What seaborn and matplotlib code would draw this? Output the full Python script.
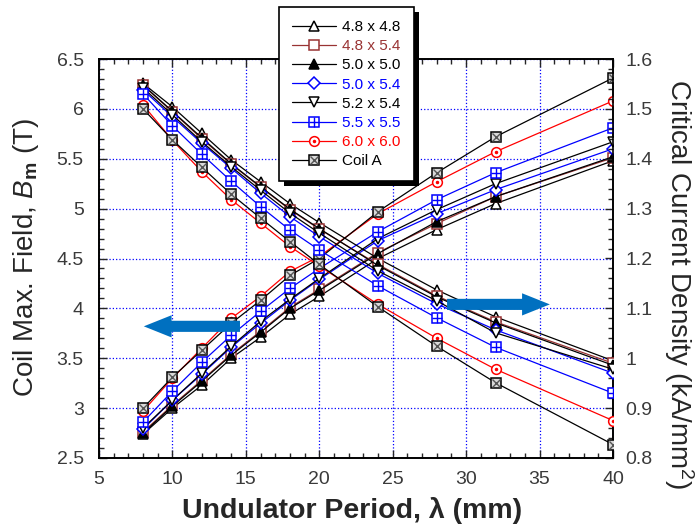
import matplotlib
matplotlib.use("Agg")
import matplotlib.pyplot as plt
from matplotlib.lines import Line2D
from matplotlib.patches import Rectangle
from matplotlib.ticker import MultipleLocator, FuncFormatter
import seaborn as sns

# undulator period (mm)
period = [8, 10, 12, 14, 16, 18, 20, 24, 28, 32, 40]

coil_names = ["4.8 x 4.8", "4.8 x 5.4", "5.0 x 5.0", "5.0 x 5.4",
              "5.2 x 5.4", "5.5 x 5.5", "6.0 x 6.0", "Coil A"]

# coil max. field Bm (T), left axis
bm_48x48 = [2.74, 3.00, 3.23, 3.50, 3.71, 3.94, 4.12, 4.50, 4.79, 5.05, 5.48]
bm_48x54 = [2.76, 3.03, 3.28, 3.54, 3.77, 4.01, 4.19, 4.56, 4.85, 5.12, 5.51]
bm_50x50 = [2.75, 3.02, 3.27, 3.53, 3.76, 4.00, 4.18, 4.55, 4.87, 5.12, 5.52]
bm_50x54 = [2.79, 3.08, 3.34, 3.61, 3.85, 4.08, 4.29, 4.68, 4.95, 5.19, 5.60]
bm_52x54 = [2.80, 3.08, 3.35, 3.62, 3.87, 4.09, 4.30, 4.70, 4.99, 5.25, 5.67]
bm_55x55 = [2.86, 3.17, 3.46, 3.73, 3.97, 4.20, 4.40, 4.77, 5.09, 5.36, 5.81]
bm_60x60 = [2.97, 3.30, 3.60, 3.90, 4.12, 4.37, 4.52, 4.95, 5.27, 5.57, 6.08]
bm_coila = [3.00, 3.31, 3.58, 3.85, 4.08, 4.33, 4.50, 4.97, 5.36, 5.72, 6.31]

# critical current density Jc (kA/mm2), right axis
jc_48x48 = [1.551, 1.504, 1.451, 1.398, 1.354, 1.310, 1.272, 1.200, 1.137, 1.083, 0.995]
jc_48x54 = [1.547, 1.494, 1.440, 1.389, 1.343, 1.298, 1.259, 1.188, 1.125, 1.073, 0.990]
jc_50x50 = [1.548, 1.495, 1.442, 1.390, 1.344, 1.299, 1.260, 1.186, 1.123, 1.071, 0.986]
jc_50x54 = [1.538, 1.484, 1.431, 1.381, 1.331, 1.284, 1.244, 1.170, 1.109, 1.057, 0.970]
jc_52x54 = [1.542, 1.488, 1.434, 1.384, 1.337, 1.291, 1.251, 1.175, 1.115, 1.051, 0.978]
jc_55x55 = [1.530, 1.466, 1.409, 1.355, 1.304, 1.257, 1.217, 1.145, 1.081, 1.022, 0.930]
jc_60x60 = [1.508, 1.437, 1.374, 1.318, 1.271, 1.224, 1.185, 1.108, 1.040, 0.978, 0.875]
jc_coila = [1.500, 1.438, 1.383, 1.329, 1.281, 1.234, 1.188, 1.103, 1.024, 0.951, 0.827]

bm_all = [bm_48x48, bm_48x54, bm_50x50, bm_50x54, bm_52x54, bm_55x55, bm_60x60, bm_coila]
jc_all = [jc_48x48, jc_48x54, jc_50x50, jc_50x54, jc_52x54, jc_55x55, jc_60x60, jc_coila]

DRED = "#993333"
BLUE = "#0000ff"
RED = "#ff0000"
colors = ["black", DRED, "black", BLUE, "black", BLUE, RED, "black"]
markers = ["^", "s", "^", "D", "v", "s", "o", "s"]
faces = ["white", "white", "black", "white", "white", "white", "white", "#d9d9d9"]
sizes = [7, 7, 7, 6, 7, 7, 7, 7.5]
overlay = [None, None, None, None, None, "+", ".", "x"]   # inner glyph drawn on top
overlay_size = [0, 0, 0, 0, 0, 7, 3, 5.5]

sns.set_style("white")
plt.rcParams["font.family"] = ["Liberation Sans", "DejaVu Sans"]
plt.rcParams["mathtext.fontset"] = "custom"
plt.rcParams["mathtext.rm"] = "Liberation Sans"
plt.rcParams["mathtext.it"] = "Liberation Sans:italic"
plt.rcParams["mathtext.bf"] = "Liberation Sans:bold"

fig = plt.figure(figsize=(6.97, 5.25), dpi=100)
ax = fig.add_axes([99/697, 1-458/525, 514/697, 399/525])
ax2 = ax.twinx()

handles = []
for i in range(len(coil_names)):
    c = colors[i]
    for axis, yv in ((ax, bm_all[i]), (ax2, jc_all[i])):
        sns.lineplot(x=period, y=yv, ax=axis, color=c, linewidth=0.9,
                     marker=markers[i], markersize=sizes[i], markerfacecolor=faces[i],
                     markeredgecolor=c, markeredgewidth=1.1, zorder=3+i, legend=False)
        if overlay[i]:
            oc = "#555555" if overlay[i] == "x" else c
            axis.plot(period, yv, ls="none", marker=overlay[i], markersize=overlay_size[i],
                      color=oc, markeredgecolor=oc, markeredgewidth=1.0, zorder=3.5+i)
    h = Line2D([], [], color=c, lw=0.9, marker=markers[i], markersize=sizes[i],
               markerfacecolor=faces[i], markeredgecolor=c, markeredgewidth=1.1)
    if overlay[i]:
        oc = "#555555" if overlay[i] == "x" else c
        h = (h, Line2D([], [], ls="none", marker=overlay[i], markersize=overlay_size[i],
                       color=oc, markeredgecolor=oc, markeredgewidth=1.0))
    handles.append(h)

ax.set_xlim(5, 40)
ax.set_ylim(2.5, 6.5)
ax2.set_ylim(0.8, 1.6)
ax.set_xlabel("")
ax.set_ylabel("")
ax2.set_ylabel("")

fmt = FuncFormatter(lambda v, p: f"{v:g}")
ax.xaxis.set_major_locator(MultipleLocator(5))
ax.xaxis.set_minor_locator(MultipleLocator(1))
ax.yaxis.set_major_locator(MultipleLocator(0.5))
ax.yaxis.set_minor_locator(MultipleLocator(0.1))
ax.yaxis.set_major_formatter(fmt)
ax2.yaxis.set_major_locator(MultipleLocator(0.1))
ax2.yaxis.set_minor_locator(MultipleLocator(0.02))
ax2.yaxis.set_major_formatter(fmt)

ax.grid(True, which="major", color=BLUE, linestyle=":", linewidth=0.9)
ax.tick_params(axis="x", which="both", direction="in", top=True, bottom=True)
ax.tick_params(axis="y", which="both", direction="in", left=True, right=False)
ax2.tick_params(axis="y", which="both", direction="in", right=True, left=False)
for a in (ax, ax2):
    a.tick_params(which="major", length=6, width=1, labelsize=14, labelcolor="#3a3a3a", pad=9)
    a.tick_params(which="minor", length=3.5, width=1)
    for sp in a.spines.values():
        sp.set_color("black")
        sp.set_linewidth(1.2)
ax.tick_params(axis="y", which="major", pad=11)

fig.text(26/697, 1-258/525, "Coil Max. Field, $B_\\mathbf{m}$ (T)", rotation=90,
         ha="center", va="center", fontsize=20)
fig.text(679/697, 1-284/525, "Critical Current Density (kA/mm$^2$)", rotation=270,
         ha="center", va="center", fontsize=20)
fig.text(352/697, 1-510/525, "Undulator Period, \u03bb (mm)", ha="center", va="center",
         fontsize=20.5, fontweight="bold")

arrow_kw = dict(arrowstyle="simple,head_width=1.6,head_length=2.0,tail_width=0.8",
                color="#0070c0", mutation_scale=10, shrinkA=0, shrinkB=0, lw=0)
ax2.annotate("", xy=(8.05, 3.82), xytext=(14.6, 3.82), xycoords=ax.transData,
             textcoords=ax.transData, arrowprops=arrow_kw, zorder=20)
ax2.annotate("", xy=(35.7, 4.04), xytext=(28.7, 4.04), xycoords=ax.transData,
             textcoords=ax.transData, arrowprops=arrow_kw, zorder=20)

leg = fig.legend(handles, coil_names, loc="upper left", bbox_to_anchor=(279/697, 1-7/525),
                 bbox_transform=fig.transFigure, frameon=True, fancybox=False, framealpha=1,
                 edgecolor="black", borderaxespad=0, borderpad=0.85, labelspacing=0.34,
                 handlelength=2.9, handletextpad=0.4, prop={"size": 11})
leg.get_frame().set_linewidth(1.2)
leg.set_zorder(10)
for t, c in zip(leg.get_texts(), colors):
    t.set_color(c)

fig.canvas.draw()
bb = leg.get_window_extent().transformed(fig.transFigure.inverted())
fig.add_artist(Rectangle((bb.x0 + 5/697, bb.y0 - 5/525), bb.width, bb.height,
                         transform=fig.transFigure, facecolor="black", edgecolor="none", zorder=9))

fig.savefig("out.png", dpi=100)
